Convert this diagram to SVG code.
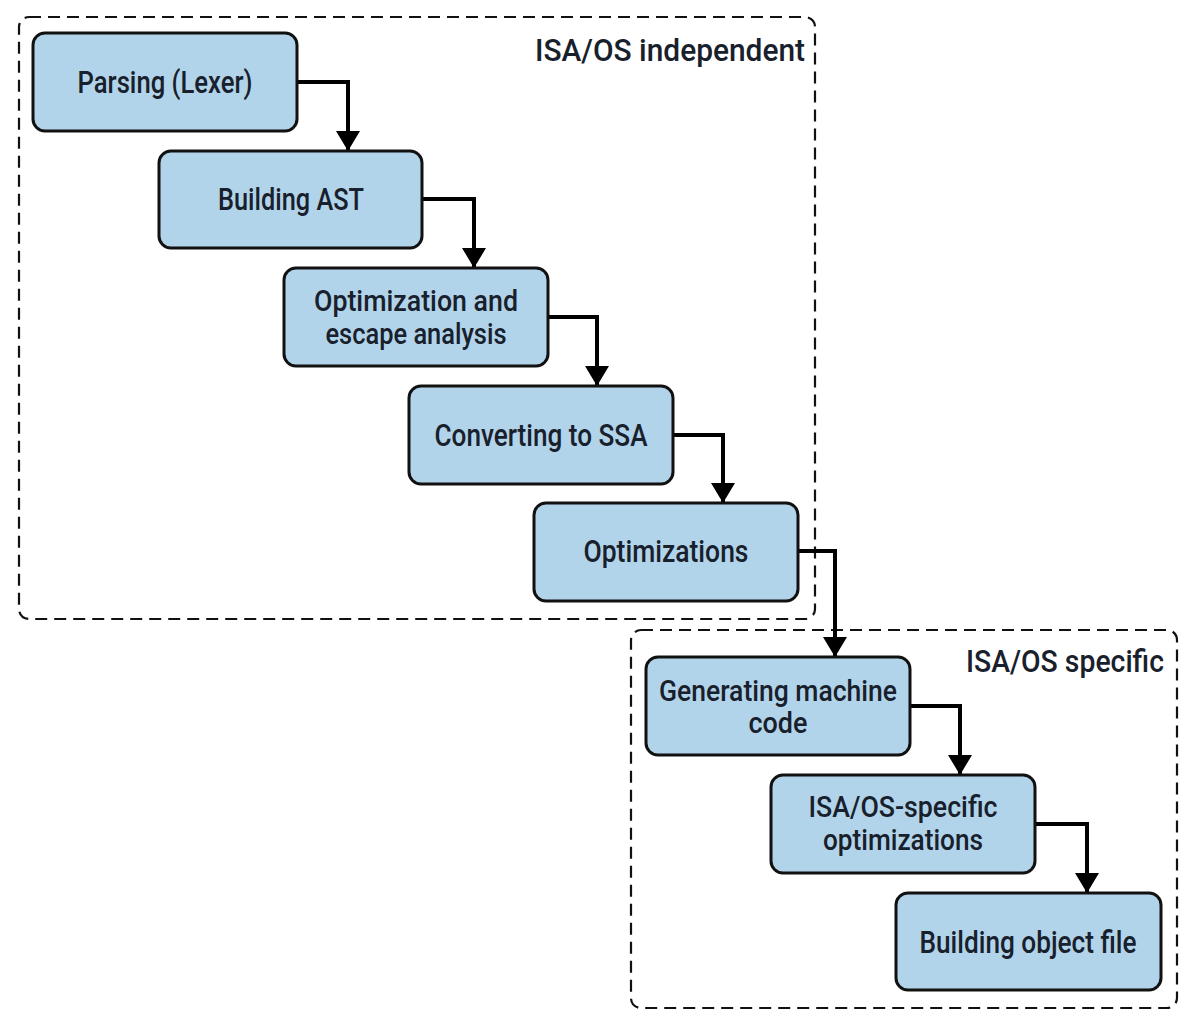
<svg xmlns="http://www.w3.org/2000/svg" width="1196" height="1034" viewBox="0 0 1196 1034">
<defs>
<style>
.grp{fill:none;stroke:#111;stroke-width:2.2;stroke-dasharray:12 7}
.node rect{fill:#b2d4ea;stroke:#111;stroke-width:3}
.node text,.title{font-family:Roboto,"Liberation Sans",sans-serif;fill:#18202c;text-anchor:middle;font-size:31px;font-weight:500}
.node text.two{font-size:30px}
.title{text-anchor:start;font-size:31px}
.conn{fill:none;stroke:#000;stroke-width:4;marker-end:url(#ah)}
</style>
<marker id="ah" viewBox="0 0 10 10" refX="10" refY="5" markerWidth="5" markerHeight="6" orient="auto" markerUnits="strokeWidth" preserveAspectRatio="none">
<path d="M0,0 L10,5 L0,10 Z" fill="#000"/>
</marker>
</defs>
<rect width="1196" height="1034" fill="#fff"/>
<g id="group-independent">
<rect class="grp" x="19" y="17" width="796" height="602" rx="10"/>
<text class="title" x="535" y="61" textLength="270" lengthAdjust="spacingAndGlyphs">ISA/OS independent</text>
</g>
<g id="group-specific">
<rect class="grp" x="631" y="630" width="546" height="378" rx="10"/>
<text class="title" x="966" y="672" textLength="198" lengthAdjust="spacingAndGlyphs">ISA/OS specific</text>
</g>
<g id="connectors">
<path class="conn" d="M297,82 H348 V151"/>
<path class="conn" d="M422,199 H474 V268"/>
<path class="conn" d="M548,317 H597 V386"/>
<path class="conn" d="M673,435 H723 V503"/>
<path class="conn" d="M798,551 H835 V657"/>
<path class="conn" d="M910,706 H960 V775"/>
<path class="conn" d="M1035,824 H1087 V893"/>
</g>
<g id="n1" class="node"><rect x="33" y="33" width="264" height="98" rx="12"/><text x="165" y="93" textLength="175" lengthAdjust="spacingAndGlyphs">Parsing (Lexer)</text></g>
<g id="n2" class="node"><rect x="159" y="151" width="263" height="97" rx="12"/><text x="291" y="210" textLength="146" lengthAdjust="spacingAndGlyphs">Building AST</text></g>
<g id="n3" class="node"><rect x="284" y="268" width="264" height="98" rx="12"/><text class="two" x="416" y="311" textLength="204" lengthAdjust="spacingAndGlyphs">Optimization and</text><text class="two" x="416" y="344" textLength="181" lengthAdjust="spacingAndGlyphs">escape analysis</text></g>
<g id="n4" class="node"><rect x="409" y="386" width="264" height="98" rx="12"/><text x="541" y="446" textLength="213" lengthAdjust="spacingAndGlyphs">Converting to SSA</text></g>
<g id="n5" class="node"><rect x="534" y="503" width="264" height="98" rx="12"/><text x="666" y="562" textLength="165" lengthAdjust="spacingAndGlyphs">Optimizations</text></g>
<g id="n6" class="node"><rect x="646" y="657" width="264" height="98" rx="12"/><text class="two" x="778" y="701" textLength="238" lengthAdjust="spacingAndGlyphs">Generating machine</text><text class="two" x="778" y="733" textLength="59" lengthAdjust="spacingAndGlyphs">code</text></g>
<g id="n7" class="node"><rect x="771" y="775" width="264" height="98" rx="12"/><text class="two" x="903" y="817" textLength="189" lengthAdjust="spacingAndGlyphs">ISA/OS-specific</text><text class="two" x="903" y="850" textLength="160" lengthAdjust="spacingAndGlyphs">optimizations</text></g>
<g id="n8" class="node"><rect x="896" y="893" width="265" height="97" rx="12"/><text x="1028" y="953" textLength="217" lengthAdjust="spacingAndGlyphs">Building object file</text></g>
</svg>
